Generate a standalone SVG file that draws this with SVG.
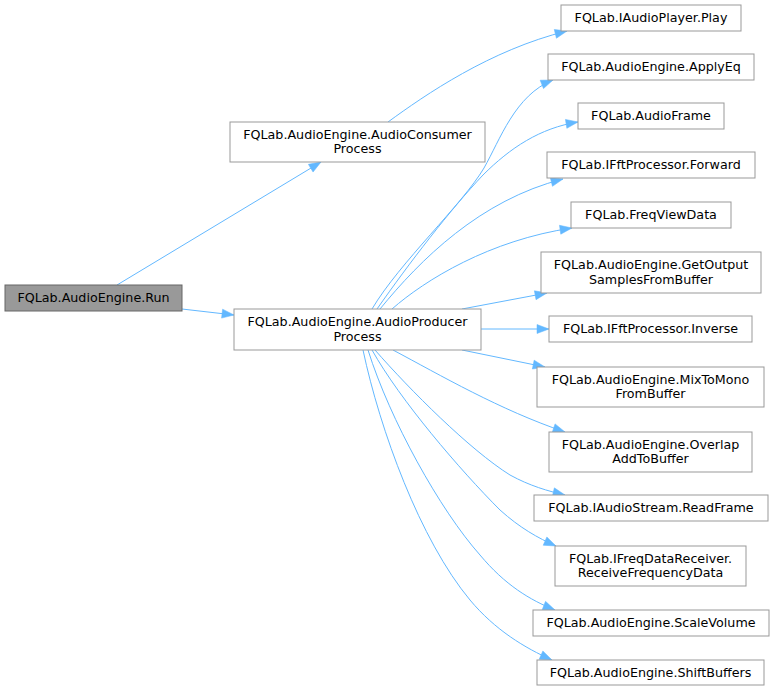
<svg xmlns="http://www.w3.org/2000/svg" width="775" height="691" viewBox="0 0 775 691">
<style>
.n rect{fill:#ffffff;stroke:#999999;stroke-width:1}
#run rect{fill:#999999;stroke:#666666}
text{font-family:"DejaVu Sans","Liberation Sans",sans-serif;font-size:12.7px;fill:#000000;text-anchor:middle}
.e path{fill:none;stroke:#63b8ff;stroke-width:1;marker-end:url(#ah)}
</style>
<defs>
<marker id="ah" markerUnits="userSpaceOnUse" markerWidth="13" markerHeight="10" refX="12" refY="4.5" orient="auto" overflow="visible">
<path d="M0,0 L12,4.5 L0,9 z" fill="#63b8ff" stroke="#63b8ff" stroke-width="0.5"/>
</marker>
</defs>
<rect width="775" height="691" fill="#ffffff"/>
<g id="edges" class="e">
<path d="M117,285 L321,162"/>
<path d="M182,309 L234,315"/>
<path d="M388,122 C425,95 490,50 567,31"/>
<path d="M372,309 C400,262 462,205 484,168 C500,140 515,95 553,80"/>
<path d="M377,309 C410,262 450,210 483,175 C510,148 540,128 578,122"/>
<path d="M380,309 C420,260 480,200 563,179"/>
<path d="M392,309 C425,280 490,240 572,228"/>
<path d="M462,309 L547,293"/>
<path d="M481,329 L549,329"/>
<path d="M462,350 L545,367"/>
<path d="M393,350 C440,375 500,410 565,432"/>
<path d="M375,350 C410,390 470,450 510,475 C530,486 548,491 565,495"/>
<path d="M372,350 C400,400 460,470 500,510 C520,528 538,538 556,546"/>
<path d="M368,350 C390,420 440,510 480,555 C505,585 530,600 555,610"/>
<path d="M363,350 C380,430 420,540 470,600 C495,630 525,648 552,660"/>
</g>
<g id="run" class="n"><rect x="5" y="285" width="177" height="26"/><text x="93.5" y="302">FQLab.AudioEngine.Run</text></g>
<g id="consumer" class="n"><rect x="230" y="122" width="255" height="40"/><text x="357.5" y="138.5">FQLab.AudioEngine.AudioConsumer</text><text x="357.5" y="153">Process</text></g>
<g id="producer" class="n"><rect x="234" y="309" width="247" height="41"/><text x="357.5" y="326">FQLab.AudioEngine.AudioProducer</text><text x="357.5" y="340.5">Process</text></g>
<g id="play" class="n"><rect x="561" y="5" width="180" height="26"/><text x="651" y="22">FQLab.IAudioPlayer.Play</text></g>
<g id="applyeq" class="n"><rect x="548" y="54" width="206" height="26"/><text x="651" y="71">FQLab.AudioEngine.ApplyEq</text></g>
<g id="audioframe" class="n"><rect x="578" y="103" width="146" height="26"/><text x="651" y="120">FQLab.AudioFrame</text></g>
<g id="forward" class="n"><rect x="547" y="152" width="208" height="26"/><text x="651" y="169">FQLab.IFftProcessor.Forward</text></g>
<g id="freqviewdata" class="n"><rect x="571" y="202" width="160" height="26"/><text x="651" y="219">FQLab.FreqViewData</text></g>
<g id="getoutput" class="n"><rect x="541" y="252" width="220" height="41"/><text x="651" y="269">FQLab.AudioEngine.GetOutput</text><text x="651" y="283.5">SamplesFromBuffer</text></g>
<g id="inverse" class="n"><rect x="549" y="316" width="203" height="26"/><text x="650.5" y="333">FQLab.IFftProcessor.Inverse</text></g>
<g id="mixtomono" class="n"><rect x="537" y="367" width="227" height="40"/><text x="650.5" y="383.5">FQLab.AudioEngine.MixToMono</text><text x="650.5" y="398">FromBuffer</text></g>
<g id="overlap" class="n"><rect x="549" y="432" width="203" height="40"/><text x="650.5" y="448.5">FQLab.AudioEngine.Overlap</text><text x="650.5" y="463">AddToBuffer</text></g>
<g id="readframe" class="n"><rect x="534" y="495" width="234" height="26"/><text x="651" y="512">FQLab.IAudioStream.ReadFrame</text></g>
<g id="receivefreq" class="n"><rect x="555" y="546" width="191" height="40"/><text x="650.5" y="562.5">FQLab.IFreqDataReceiver.</text><text x="650.5" y="577">ReceiveFrequencyData</text></g>
<g id="scalevolume" class="n"><rect x="533" y="610" width="236" height="26"/><text x="651" y="627">FQLab.AudioEngine.ScaleVolume</text></g>
<g id="shiftbuffers" class="n"><rect x="537" y="660" width="227" height="25"/><text x="650.5" y="677">FQLab.AudioEngine.ShiftBuffers</text></g>
</svg>
